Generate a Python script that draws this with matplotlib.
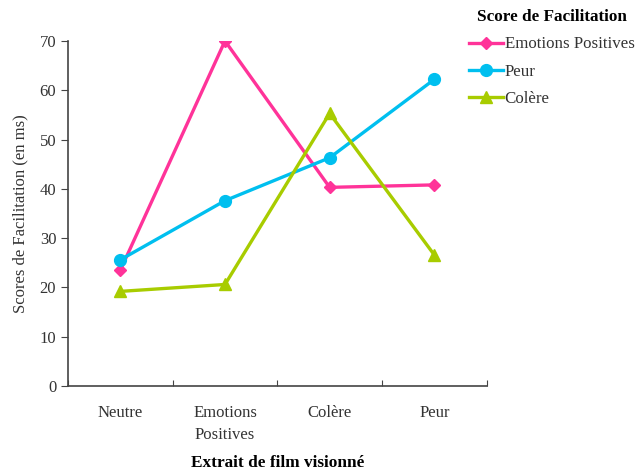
import matplotlib
matplotlib.use("Agg")
import matplotlib.pyplot as plt
from matplotlib.ticker import FixedLocator, NullFormatter

plt.rcParams["font.family"] = ["Liberation Serif", "DejaVu Serif"]

categories = ["Neutre", "Emotions\nPositives", "Colère", "Peur"]
emotions_positives = [23.5, 70.0, 40.3, 40.8]
peur = [25.6, 37.6, 46.3, 62.2]
colere = [19.2, 20.6, 55.3, 26.6]

series = [
    ("Emotions Positives", emotions_positives, "#FF3399", "D", 6),
    ("Peur", peur, "#00BFEF", "o", 8.5),
    ("Colère", colere, "#A8CC00", "^", 9),
]

fig = plt.figure(figsize=(6.44, 4.76), dpi=100)
ax = fig.add_axes([0.1056, 0.189, 0.650, 0.725])

x = list(range(len(categories)))
for name, vals, color, marker, ms in series:
    ax.plot(x, vals, color=color, lw=2.4, marker=marker, markersize=ms,
            markeredgecolor=color, label=name)

ax.set_xlim(-0.5, len(categories) - 0.5)
ax.set_ylim(0, 70)
ax.set_yticks(range(0, 71, 10))

# tick marks sit between categories, labels sit centred on them
ax.xaxis.set_major_locator(FixedLocator([i - 0.5 for i in range(len(categories) + 1)]))
ax.xaxis.set_major_formatter(NullFormatter())
ax.xaxis.set_minor_locator(FixedLocator(x))
ax.set_xticklabels(categories, minor=True, linespacing=1.45)
ax.tick_params(axis="x", which="minor", length=0, pad=14, labelsize=12, labelcolor="#333333")
ax.tick_params(axis="x", which="major", length=4, direction="in", color="#444444")
ax.tick_params(axis="y", length=5, direction="out", labelsize=12,
               labelcolor="#333333", color="#444444")

for side in ["top", "right"]:
    ax.spines[side].set_visible(False)
for side in ["left", "bottom"]:
    ax.spines[side].set_color("#444444")
    ax.spines[side].set_linewidth(1.2)

ax.set_ylabel("Scores de Facilitation (en ms)", fontsize=12, color="#333333", labelpad=8)
ax.set_xlabel("Extrait de film visionné", fontsize=12.4, fontweight="bold", labelpad=9)

leg = fig.legend(loc="upper left", bbox_to_anchor=(0.71, 1.005), frameon=False,
                 title="Score de Facilitation", fontsize=12.2, handlelength=2.0,
                 handletextpad=0.1, labelspacing=0.65, borderaxespad=0.3)
leg.get_title().set_fontweight("bold")
leg.get_title().set_fontsize(12.3)
for t in leg.get_texts():
    t.set_color("#333333")

fig.savefig("out.png", dpi=100)
